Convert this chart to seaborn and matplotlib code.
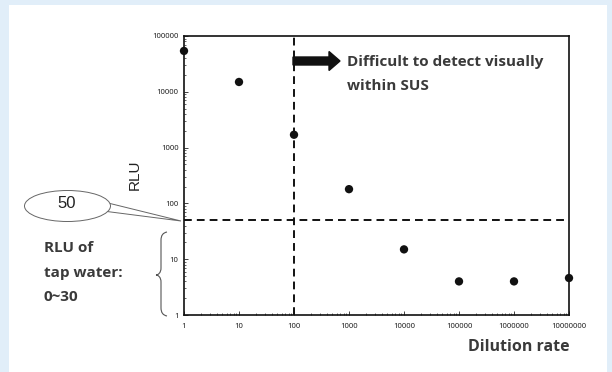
import numpy as np
import pandas as pd
import matplotlib.pyplot as plt
import seaborn as sns
from matplotlib.patches import Rectangle, Ellipse, Polygon, FancyArrow, PathPatch
from matplotlib.path import Path

# data
dilution = [1, 10, 100, 1000, 10000, 100000, 1000000, 10000000]
rlu = [54000, 15000, 1700, 180, 15, 4.0, 4.0, 4.6]
threshold_rlu = 50
visual_limit = 100
x_ticks = [1, 10, 100, 1000, 10000, 100000, 1000000, 10000000]
y_ticks = [1, 10, 100, 1000, 10000, 100000]
tap_lines = ['RLU of', 'tap water:', '0~30']

df = pd.DataFrame({'Dilution': dilution, 'RLU': rlu})

sns.set_style('ticks')
plt.rcParams['font.family'] = ['Open Sans', 'DejaVu Sans']

W, H = 612, 372
def fx(px):
    return px / W
def fy(py):
    return 1 - py / H

fig = plt.figure(figsize=(6.12, 3.72), dpi=100)
fig.patch.set_facecolor('#e1eef9')
fig.add_artist(Rectangle((fx(9), 0), fx(598), 1 - 5/H, transform=fig.transFigure,
                         facecolor='white', edgecolor='none', zorder=0))

ax = fig.add_axes([fx(184), fy(315), fx(385), 279/H])
ax.set_facecolor('none')

sns.scatterplot(data=df, x='Dilution', y='RLU', ax=ax, color='#111111', s=36,
                edgecolor='none', zorder=5, clip_on=False, legend=False)

ax.set_xscale('log')
ax.set_yscale('log')
ax.set_xlim(1, 1e7)
ax.set_ylim(1, 1e5)
ax.set_xticks(x_ticks)
ax.set_xticklabels([str(v) for v in x_ticks])
ax.set_yticks(y_ticks)
ax.set_yticklabels([str(v) for v in y_ticks])
ax.tick_params(axis='both', which='major', direction='in', length=3, width=0.6,
               labelsize=5.5, colors='#222222')
ax.tick_params(axis='x', which='major', pad=6)
ax.tick_params(axis='y', which='major', pad=4)
ax.tick_params(axis='both', which='minor', direction='in', length=1.5, width=0.5)
for lab in ax.get_xticklabels() + ax.get_yticklabels():
    lab.set_family(['Noto Sans', 'DejaVu Sans'])
for sp in ax.spines.values():
    sp.set_linewidth(1.2)
    sp.set_color('#111111')

ax.axhline(threshold_rlu, color='#111111', lw=1.4, ls=(0, (4, 2.6)), zorder=3)
ax.axvline(visual_limit, color='#111111', lw=1.4, ls=(0, (4, 2.6)), zorder=3)

ax.set_xlabel('')
ax.set_ylabel('')

# y label
fig.text(fx(135), fy(175), 'RLU', rotation=90, ha='center', va='center',
         fontsize=11, color='#222222', family=['Liberation Sans', 'DejaVu Sans'])
# x label
fig.text(fx(570), fy(347), 'Dilution rate', ha='right', va='center',
         fontsize=11.5, fontweight='bold', color='#3a3a3a')

# arrow and note
fig.add_artist(FancyArrow(fx(293), fy(61), fx(36), 0, width=8/H,
                          head_width=19/H, head_length=fx(11),
                          length_includes_head=False, transform=fig.transFigure,
                          color='#111111', zorder=6))
fig.text(fx(347), fy(62), 'Difficult to detect visually', ha='left', va='center',
         fontsize=11, fontweight='bold', color='#3a3a3a')
fig.text(fx(347), fy(86), 'within SUS', ha='left', va='center',
         fontsize=11, fontweight='bold', color='#3a3a3a')

# callout with 50
fig.add_artist(Polygon([(fx(108), fy(203)), (fx(181), fy(221)), (fx(103), fy(211))],
                       closed=False, transform=fig.transFigure, fill=False,
                       edgecolor='#666666', lw=0.7, zorder=4))
fig.add_artist(Ellipse((fx(67.5), fy(206)), fx(86), 31/H, transform=fig.transFigure,
                       facecolor='white', edgecolor='#666666', lw=0.7, zorder=5))
fig.text(fx(67), fy(204), '50', ha='center', va='center', fontsize=12,
         color='#222222', family=['Liberation Sans', 'DejaVu Sans'], zorder=6)

# brace for tap water range
brace = Path([(fx(167), fy(232)), (fx(161), fy(233)), (fx(161), fy(240)),
              (fx(161), fy(268)),
              (fx(161), fy(273)), (fx(158), fy(275)), (fx(156), fy(275)),
              (fx(158), fy(275)), (fx(161), fy(277)), (fx(161), fy(282)),
              (fx(161), fy(308)),
              (fx(161), fy(315)), (fx(167), fy(316))],
             [Path.MOVETO, Path.CURVE3, Path.CURVE3,
              Path.LINETO,
              Path.CURVE4, Path.CURVE4, Path.CURVE4,
              Path.CURVE4, Path.CURVE4, Path.CURVE4,
              Path.LINETO,
              Path.CURVE3, Path.CURVE3])
fig.add_artist(PathPatch(brace, transform=fig.transFigure, fill=False,
                         edgecolor='#555555', lw=0.8, zorder=4))
for line, ypx in zip(tap_lines, [248, 273, 297]):
    fig.text(fx(44), fy(ypx), line, ha='left', va='center',
             fontsize=11, fontweight='bold', color='#3a3a3a')

plt.savefig('out.png', dpi=100)
